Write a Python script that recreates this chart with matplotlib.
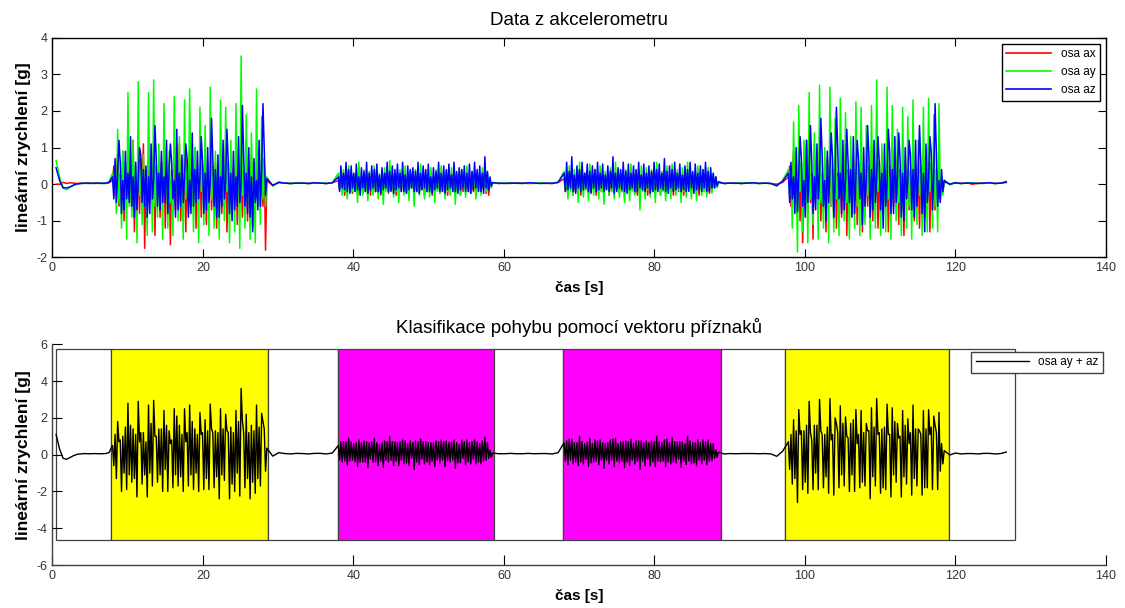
import numpy as np
import matplotlib.pyplot as plt

plt.rcParams['font.family'] = ['Liberation Sans', 'DejaVu Sans']
plt.rcParams['axes.unicode_minus'] = False

# segment boundaries in seconds (rest / activity)
seg_start = [0.5, 8.0, 28.5, 38.0, 58.5, 68.0, 88.5, 97.8, 118.5]
seg_end = [8.0, 28.5, 38.0, 58.5, 68.0, 88.5, 97.8, 118.5, 127.5]

# --- osa ax ---
ax_rest0 = [0.0, 0.0, 0.05, 0.02, 0.04, 0.03, 0.02, 0.03, 0.02, 0.03, 0.03, 0.02, 0.03, 0.03, 0.02, 0.04]
ax_act1 = [0.1, 0.5, -0.3, 0.2, 0.8, -0.6, 0.3, -0.2, 0.9, -1.0, 0.4, -0.3, 0.6, -0.4, 0.2, -0.7,
           1.2, -1.3, 0.3, -0.5, 0.5, -0.8, 0.7, -0.2, 1.1, -1.75, 0.4, -0.6, 0.7, -0.5, 0.2, -0.4,
           0.9, -1.4, 0.5, -0.3, 0.4, -0.9, 0.6, -0.2, 1.0, -1.2, 0.3, -0.5, 0.6, -1.65, 0.4, -0.3,
           0.8, -0.7, 0.5, -0.4, 1.1, -1.0, 0.2, -0.6, 0.5, -1.3, 0.7, -0.3, 0.9, -0.6, 0.4, -0.5,
           1.0, -1.2, 0.3, -0.4, 0.7, -0.9, 0.5, -0.2, 0.8, -1.1, 0.6, -0.5, 1.0, -0.7, 0.3, -0.4,
           0.6, -1.2, 0.4, -0.3, 0.9, -0.8, 0.5, -0.6, 1.1, -1.3, 0.2, -0.5, 0.7, -0.6, 0.4, -0.3,
           1.0, -1.1, 0.6, -0.4, 0.5, -0.9, 0.3, -0.2, 1.2, -1.0, 0.4, -0.6, 0.8, -1.2, 0.5, -0.3,
           0.6, -0.5, 0.9, -0.4, 0.3, -0.6, 0.7, -1.8]
ax_rest1 = [0.1, -0.04, 0.05, 0.03, 0.02, 0.03, 0.04, 0.02, 0.03, 0.03, 0.02, 0.04]
ax_act2 = [0.1, -0.15, 0.25, -0.2, 0.15, -0.3, 0.2, -0.1, 0.3, -0.2, 0.1, -0.25, 0.2, -0.15, 0.25, -0.3,
           0.15, -0.1, 0.2, -0.25, 0.3, -0.15, 0.1, -0.2, 0.25, -0.3, 0.15, -0.1, 0.2, -0.2, 0.25, -0.15,
           0.1, -0.3, 0.2, -0.2, 0.3, -0.1, 0.15, -0.25, 0.2, -0.15, 0.25, -0.2, 0.1, -0.3, 0.2, -0.1,
           0.25, -0.2, 0.3, -0.15, 0.1, -0.25, 0.2, -0.2, 0.15, -0.1, 0.2, -0.05, 0.15, -0.2, 0.1, -0.25,
           0.3, -0.15, 0.2, -0.3, 0.1, -0.2, 0.25, -0.1, 0.2, -0.3, 0.15, -0.2, 0.3, -0.15, 0.1, -0.25,
           0.2, -0.2, 0.25, -0.1, 0.15, -0.3, 0.2, -0.15, 0.3, -0.2, 0.1, -0.25, 0.2, -0.1, 0.25, -0.3,
           0.15, -0.2, 0.2, -0.15, 0.3, -0.1, 0.1, -0.25, 0.2, -0.2, 0.15, -0.3, 0.25, -0.1, 0.2, -0.2,
           0.1, -0.15, 0.3, -0.25, 0.15, -0.3, 0.1, -0.05]
ax_rest2 = [0.04, 0.02, 0.03, 0.02, 0.04, 0.03, 0.02, 0.03, 0.03, 0.02, 0.03, 0.05]
ax_act3 = [0.15, -0.2, 0.1, -0.25, 0.3, -0.15, 0.2, -0.3, 0.1, -0.2, 0.25, -0.1, 0.2, -0.3, 0.15, -0.2,
           0.3, -0.15, 0.1, -0.25, 0.2, -0.2, 0.25, -0.1, 0.15, -0.3, 0.2, -0.15, 0.3, -0.2, 0.1, -0.25,
           0.2, -0.1, 0.25, -0.3, 0.15, -0.2, 0.2, -0.15, 0.3, -0.1, 0.1, -0.25, 0.2, -0.2, 0.15, -0.3,
           0.25, -0.1, 0.2, -0.2, 0.1, -0.15, 0.3, -0.25, 0.15, -0.3, 0.1, -0.05, 0.1, -0.15, 0.25, -0.2,
           0.15, -0.3, 0.2, -0.1, 0.3, -0.2, 0.1, -0.25, 0.2, -0.15, 0.25, -0.3, 0.15, -0.1, 0.2, -0.25,
           0.3, -0.15, 0.1, -0.2, 0.25, -0.3, 0.15, -0.1, 0.2, -0.2, 0.25, -0.15, 0.1, -0.3, 0.2, -0.2,
           0.3, -0.1, 0.15, -0.25, 0.2, -0.15, 0.25, -0.2, 0.1, -0.3, 0.2, -0.1, 0.25, -0.2, 0.3, -0.15,
           0.1, -0.25, 0.2, -0.2, 0.15, -0.1, 0.2, -0.05]
ax_rest3 = [0.05, 0.02, 0.03, 0.03, 0.02, 0.04, 0.03, 0.02, 0.03, 0.02, 0.0, 0.05]
ax_act4 = [0.2, 0.5, -0.6, 0.3, 0.9, -0.4, 0.2, -0.7, 0.7, -1.0, 0.4, -1.6, 0.5, -0.3, 1.2, -0.8,
           0.6, -0.5, 0.3, -1.5, 1.1, -0.4, 0.6, -0.7, 0.9, -1.0, 0.2, -0.5, 0.5, -1.3, 0.7, -0.3,
           1.0, -0.6, 0.4, -0.9, 0.8, -1.2, 0.3, -0.5, 0.6, -0.9, 0.5, -0.3, 1.1, -1.4, 0.4, -0.6,
           0.7, -0.8, 0.3, -0.5, 0.9, -1.1, 0.6, -0.4, 0.5, -1.3, 0.4, -0.7, 0.8, -0.6, 0.2, -0.5,
           1.0, -1.0, 0.5, -0.4, 0.6, -1.2, 0.3, -0.8, 0.9, -0.8, 0.4, -0.3, 0.7, -1.3, 0.5, -0.6,
           1.0, -0.6, 0.3, -0.5, 0.8, -1.1, 0.4, -0.7, 0.5, -1.4, 0.6, -0.4, 0.9, -0.7, 0.2, -0.5,
           1.0, -1.0, 0.5, -0.3, 0.6, -1.2, 0.4, -0.6, 0.8, -0.9, 0.3, -0.5, 1.0, -1.3, 0.5, -0.4,
           0.6, -0.7, 0.4, -0.3, 0.5, -0.4, 0.2, -0.2]
ax_rest4 = [0.06, 0.01, 0.03, 0.02, 0.04, 0.0, 0.03, 0.02, 0.04, 0.02, 0.03, 0.05]

# --- osa ay ---
ay_rest0 = [0.65, 0.2, -0.1, -0.15, -0.08, -0.03, 0.01, 0.02, 0.03, 0.02, 0.03, 0.03, 0.02, 0.03, 0.03, 0.06]
ay_act1 = [0.3, -0.2, 0.4, -0.8, 1.5, -0.5, 0.2, -1.2, 0.9, -0.3, 0.6, -1.5, 2.5, -0.6, 0.3, -0.9,
           1.2, -0.4, 0.5, -1.6, 2.8, -0.3, 0.4, -1.1, 0.8, -0.5, 0.2, -1.4, 2.5, -0.2, 0.6, -1.3,
           2.85, -0.6, 0.3, -0.9, 1.1, -0.4, 0.5, -1.5, 2.2, -0.3, 0.4, -1.2, 0.9, -0.5, 0.2, -1.4,
           2.4, -0.2, 0.6, -1.0, 1.3, -0.6, 0.3, -1.5, 2.3, -0.4, 0.5, -0.8, 2.6, -0.3, 0.4, -1.3,
           1.0, -0.5, 0.2, -1.6, 2.1, -0.2, 0.6, -1.1, 1.6, -0.6, 0.3, -1.4, 2.65, -0.4, 0.5, -1.2,
           0.9, -0.3, 0.4, -1.5, 2.3, -0.5, 0.2, -1.0, 2.1, -0.2, 0.6, -1.6, 1.2, -0.6, 0.3, -1.3,
           2.2, -0.4, 0.5, -1.75, 3.5, -0.3, 0.4, -1.2, 1.9, -0.5, 0.2, -1.5, 1.4, -0.2, 0.6, -1.6,
           2.6, -0.6, 0.3, -1.1, 1.85, -0.4, 0.5, -0.6]
ay_rest1 = [0.2, -0.05, 0.06, 0.03, 0.02, 0.04, 0.03, 0.02, 0.03, 0.04, 0.02, 0.05]
ay_act2 = [0.3, -0.1, 0.2, -0.3, 0.4, -0.2, 0.1, -0.4, 0.5, -0.1, 0.2, -0.2, 0.3, -0.2, 0.1, -0.5,
           0.6, -0.1, 0.2, -0.3, 0.4, -0.2, 0.1, -0.45, 0.35, -0.1, 0.2, -0.3, 0.5, -0.2, 0.1, -0.4,
           0.3, -0.1, 0.2, -0.55, 0.45, -0.2, 0.1, -0.2, 0.65, -0.1, 0.2, -0.35, 0.3, -0.2, 0.1, -0.5,
           0.4, -0.1, 0.2, -0.3, 0.5, -0.2, 0.1, -0.45, 0.35, -0.1, 0.2, -0.6, 0.4, -0.2, 0.1, -0.3,
           0.55, -0.1, 0.2, -0.4, 0.3, -0.2, 0.1, -0.35, 0.45, -0.1, 0.2, -0.5, 0.4, -0.2, 0.1, -0.25,
           0.5, -0.1, 0.2, -0.4, 0.35, -0.2, 0.1, -0.3, 0.45, -0.1, 0.2, -0.55, 0.3, -0.2, 0.1, -0.3,
           0.4, -0.1, 0.2, -0.35, 0.5, -0.2, 0.1, -0.25, 0.35, -0.1, 0.2, -0.4, 0.3, -0.2, 0.1, -0.3,
           0.45, -0.1, 0.2, -0.2, 0.3, -0.05, 0.05, -0.1]
ay_rest2 = [0.05, 0.02, 0.03, 0.04, 0.02, 0.03, 0.03, 0.02, 0.04, 0.03, 0.02, 0.06]
ay_act3 = [0.35, -0.15, 0.15, -0.4, 0.5, -0.2, 0.1, -0.3, 0.4, -0.15, 0.15, -0.5, 0.6, -0.2, 0.1, -0.35,
           0.3, -0.15, 0.15, -0.45, 0.55, -0.2, 0.1, -0.3, 0.4, -0.15, 0.15, -0.4, 0.5, -0.2, 0.1, -0.55,
           0.35, -0.15, 0.15, -0.3, 0.45, -0.2, 0.1, -0.4, 0.6, -0.15, 0.15, -0.35, 0.3, -0.2, 0.1, -0.5,
           0.4, -0.15, 0.15, -0.45, 0.55, -0.2, 0.1, -0.3, 0.35, -0.15, 0.15, -0.7, 0.5, -0.2, 0.1, -0.4,
           0.45, -0.15, 0.15, -0.35, 0.4, -0.2, 0.1, -0.5, 0.6, -0.15, 0.15, -0.3, 0.35, -0.2, 0.1, -0.45,
           0.5, -0.15, 0.15, -0.4, 0.55, -0.2, 0.1, -0.3, 0.4, -0.15, 0.15, -0.5, 0.45, -0.2, 0.1, -0.35,
           0.6, -0.15, 0.15, -0.4, 0.3, -0.2, 0.1, -0.45, 0.5, -0.15, 0.15, -0.3, 0.4, -0.2, 0.1, -0.35,
           0.45, -0.15, 0.15, -0.25, 0.3, -0.1, 0.05, -0.1]
ay_rest3 = [0.08, 0.02, 0.03, 0.02, 0.04, 0.03, 0.02, 0.03, 0.03, 0.02, -0.05, 0.1]
ay_act4 = [0.4, -0.3, 0.5, -1.2, 1.7, -0.5, 0.3, -1.85, 2.15, -0.2, 0.6, -1.3, 1.2, -0.6, 0.4, -1.6,
           2.5, -0.4, 0.2, -1.1, 1.4, -0.3, 0.5, -1.5, 2.7, -0.5, 0.3, -1.2, 1.0, -0.2, 0.6, -1.6,
           2.65, -0.6, 0.4, -1.3, 1.8, -0.4, 0.2, -1.4, 2.35, -0.3, 0.5, -1.0, 1.95, -0.5, 0.3, -1.5,
           1.3, -0.2, 0.6, -1.2, 2.25, -0.6, 0.4, -1.4, 2.1, -0.4, 0.2, -1.1, 1.6, -0.3, 0.5, -1.5,
           2.15, -0.5, 0.3, -1.2, 2.85, -0.2, 0.6, -1.4, 1.1, -0.6, 0.4, -1.3, 2.65, -0.4, 0.2, -1.5,
           2.15, -0.3, 0.5, -1.0, 1.5, -0.5, 0.3, -1.4, 2.1, -0.2, 0.6, -1.2, 1.85, -0.6, 0.4, -1.5,
           2.3, -0.4, 0.2, -1.1, 1.2, -0.3, 0.5, -1.4, 2.1, -0.5, 0.3, -1.3, 2.35, -0.2, 0.6, -1.2,
           1.9, -0.6, 0.4, -1.3, 2.2, -0.4, 0.2, -0.3]
ay_rest4 = [0.12, -0.02, 0.05, 0.02, 0.03, 0.03, 0.02, 0.04, 0.03, 0.02, 0.03, 0.08]

# --- osa az ---
az_rest0 = [0.45, 0.1, -0.1, -0.1, -0.07, -0.02, 0.01, 0.02, 0.03, 0.03, 0.02, 0.03, 0.03, 0.02, 0.03, 0.05]
az_act1 = [0.2, -0.4, 0.7, -0.5, 0.3, 1.2, 0.6, -0.8, 0.1, -0.7, 0.9, -0.4, 0.3, -0.5, 1.3, -0.6,
           0.2, -0.9, 0.6, -0.7, 0.1, 1.0, 0.8, -0.5, 0.4, -0.6, 0.5, -0.9, 0.2, -0.8, 1.1, -0.4,
           0.1, 1.6, 0.7, -0.6, 0.3, -0.7, 0.9, -0.5, 0.2, -0.5, 1.2, -0.8, 0.4, 1.1, 0.6, -0.4,
           0.1, -0.9, 1.5, -0.7, 0.3, -0.6, 0.8, -0.5, 0.2, 1.1, 0.7, -0.9, 0.1, -0.8, 1.4, -0.6,
           0.4, -0.5, 0.9, -0.4, 0.2, 1.3, 0.6, -0.8, 0.3, -0.7, 1.0, -0.5, 0.1, 1.8, 0.7, -0.6,
           0.4, -0.9, 0.8, -0.9, 0.2, -0.6, 1.2, -0.4, 0.1, 1.5, 0.6, -0.8, 0.3, -1.0, 0.9, -0.7,
           0.2, -0.6, 1.3, -0.5, 0.1, 2.15, 0.8, -0.6, 0.3, -0.8, 1.0, -0.9, 0.2, -1.3, 0.7, -0.5,
           0.1, -0.7, 1.2, -0.6, 0.4, 2.2, 0.9, -0.3]
az_rest1 = [0.15, -0.03, 0.05, 0.03, 0.02, 0.03, 0.03, 0.02, 0.04, 0.03, 0.02, 0.04]
az_act2 = [0.2, -0.2, 0.5, -0.1, 0.3, -0.15, 0.6, -0.2, 0.4, -0.25, 0.5, -0.1, 0.3, -0.2, 0.55, -0.15,
           0.2, -0.3, 0.45, -0.1, 0.35, -0.2, 0.6, -0.25, 0.3, -0.15, 0.5, -0.1, 0.4, -0.2, 0.55, -0.2,
           0.25, -0.25, 0.45, -0.15, 0.3, -0.1, 0.6, -0.2, 0.35, -0.2, 0.5, -0.25, 0.4, -0.15, 0.55, -0.1,
           0.3, -0.2, 0.6, -0.2, 0.25, -0.25, 0.5, -0.15, 0.4, -0.1, 0.45, -0.2, 0.35, -0.2, 0.6, -0.25,
           0.3, -0.15, 0.5, -0.1, 0.4, -0.2, 0.55, -0.2, 0.2, -0.25, 0.45, -0.15, 0.35, -0.1, 0.6, -0.2,
           0.3, -0.2, 0.5, -0.25, 0.4, -0.15, 0.55, -0.1, 0.25, -0.2, 0.6, -0.2, 0.35, -0.25, 0.45, -0.15,
           0.4, -0.1, 0.5, -0.2, 0.3, -0.2, 0.55, -0.25, 0.35, -0.15, 0.6, -0.1, 0.4, -0.2, 0.5, -0.2,
           0.3, -0.25, 0.75, -0.1, 0.35, -0.15, 0.2, -0.05]
az_rest2 = [0.04, 0.03, 0.02, 0.03, 0.03, 0.02, 0.04, 0.03, 0.02, 0.03, 0.02, 0.05]
az_act3 = [0.3, -0.2, 0.6, -0.15, 0.35, -0.1, 0.75, -0.2, 0.25, -0.25, 0.5, -0.1, 0.4, -0.2, 0.6, -0.15,
           0.3, -0.1, 0.55, -0.2, 0.35, -0.25, 0.5, -0.1, 0.4, -0.2, 0.6, -0.15, 0.3, -0.1, 0.55, -0.2,
           0.25, -0.15, 0.5, -0.2, 0.35, -0.1, 0.75, -0.25, 0.3, -0.2, 0.45, -0.1, 0.4, -0.15, 0.6, -0.2,
           0.35, -0.25, 0.55, -0.15, 0.3, -0.1, 0.5, -0.2, 0.4, -0.2, 0.6, -0.1, 0.25, -0.15, 0.55, -0.2,
           0.3, -0.1, 0.5, -0.25, 0.35, -0.2, 0.6, -0.15, 0.4, -0.2, 0.55, -0.1, 0.3, -0.15, 0.7, -0.2,
           0.35, -0.25, 0.5, -0.1, 0.4, -0.2, 0.6, -0.15, 0.3, -0.1, 0.55, -0.2, 0.25, -0.15, 0.5, -0.2,
           0.4, -0.2, 0.6, -0.1, 0.35, -0.25, 0.55, -0.15, 0.3, -0.15, 0.5, -0.2, 0.4, -0.1, 0.6, -0.2,
           0.35, -0.2, 0.45, -0.1, 0.3, -0.1, 0.2, -0.05]
az_rest3 = [0.06, 0.02, 0.03, 0.03, 0.02, 0.03, 0.04, 0.02, 0.03, 0.02, -0.04, 0.08]
az_act4 = [0.3, -0.5, 0.6, -0.4, 0.2, -0.8, 1.0, -0.75, 0.3, 1.3, 0.7, -0.6, 0.1, -0.9, 1.2, -0.5,
           0.4, 1.6, 0.6, -0.8, 0.2, -0.7, 1.1, -0.4, 0.3, 1.8, 0.8, -0.6, 0.1, -1.0, 0.9, -0.5,
           0.4, 1.4, 0.7, -0.9, 0.2, 2.1, 1.0, -0.4, 0.3, -0.8, 1.2, -0.7, 0.1, 1.5, 0.6, -0.5,
           0.4, -0.9, 1.3, -0.8, 0.2, 1.2, 0.7, -0.4, 0.3, -1.1, 1.0, -0.6, 0.1, 1.6, 0.8, -0.9,
           0.4, -0.7, 1.2, -0.5, 0.2, 1.3, 0.6, -0.7, 0.3, -1.2, 1.1, -0.6, 0.1, 1.5, 0.9, -0.8,
           0.4, -0.8, 1.3, -0.5, 0.2, 1.4, 0.7, -0.9, 0.3, -1.0, 1.0, -0.4, 0.1, 1.2, 0.8, -0.7,
           0.4, -0.9, 1.2, -0.6, 0.2, 1.6, 0.6, -0.8, 0.3, -1.3, 1.1, -0.5, 0.1, 1.3, 0.9, -0.7,
           0.2, 2.2, 0.8, -0.6, 0.1, -0.5, 0.4, -0.2]
az_rest4 = [0.1, 0.0, 0.04, 0.02, 0.03, 0.03, 0.02, 0.03, 0.04, 0.02, 0.03, 0.06]

# classification blocks in the lower chart
class_start = [0.5, 7.8, 28.7, 37.9, 58.7, 67.8, 88.8, 97.4, 119.2]
class_end = [7.8, 28.7, 37.9, 58.7, 67.8, 88.8, 97.4, 119.2, 127.9]
class_color = ['white', 'yellow', 'white', 'magenta', 'white', 'magenta', 'white', 'yellow', 'white']
class_low = -4.65
class_high = 5.73

ax_segments = [ax_rest0, ax_act1, ax_rest1, ax_act2, ax_rest2, ax_act3, ax_rest3, ax_act4, ax_rest4]
ay_segments = [ay_rest0, ay_act1, ay_rest1, ay_act2, ay_rest2, ay_act3, ay_rest3, ay_act4, ay_rest4]
az_segments = [az_rest0, az_act1, az_rest1, az_act2, az_rest2, az_act3, az_rest3, az_act4, az_rest4]


def build(segments):
    t, v = [], []
    for s, e, vals in zip(seg_start, seg_end, segments):
        t.append(np.linspace(s, e, len(vals), endpoint=False))
        v.append(np.array(vals))
    return np.concatenate(t), np.concatenate(v)


t_ax, v_ax = build(ax_segments)
t_ay, v_ay = build(ay_segments)
t_az, v_az = build(az_segments)
v_sum = v_ay + v_az

tick_color = '#333333'

fig = plt.figure(figsize=(11.25, 6.08), dpi=100)

# top: raw accelerometer data
ax1 = fig.add_axes([0.0465, 0.5765, 0.9366, 0.3615])
ax1.plot(t_ax, v_ax, color=(1, 0, 0), lw=1.1, label='osa ax')
ax1.plot(t_ay, v_ay, color=(0, 1, 0), lw=1.1, label='osa ay')
ax1.plot(t_az, v_az, color=(0, 0, 1), lw=1.1, label='osa az')
ax1.set_xlim(0, 140)
ax1.set_ylim(-2, 4)
ax1.set_xticks(range(0, 141, 20))
ax1.set_yticks(range(-2, 5, 1))
ax1.tick_params(direction='in', length=6, top=True, right=True, labelsize=9, labelcolor=tick_color)
for sp in ax1.spines.values():
    sp.set_linewidth(1.0)
ax1.set_title('Data z akcelerometru', fontsize=13.5, pad=9)
ax1.set_xlabel('čas [s]', fontsize=11, fontweight='bold', labelpad=5)
ax1.set_ylabel('lineární zrychlení [g]', fontsize=12.5, fontweight='bold', labelpad=4)
leg1 = ax1.legend(loc='upper right', fontsize=8.5, handlelength=3.8, fancybox=False,
                  edgecolor='black', framealpha=1, borderaxespad=0.5)
leg1.get_frame().set_linewidth(1.0)
for ln in leg1.get_lines():
    ln.set_linewidth(1.2)

# bottom: classification
ax2 = fig.add_axes([0.0465, 0.0707, 0.9366, 0.363])
for s, e, c in zip(class_start, class_end, class_color):
    ax2.bar(s, class_high - class_low, width=e - s, bottom=class_low, align='edge',
            color=c, edgecolor='#404040', linewidth=0.9, zorder=1)
ax2.plot(t_ay, v_sum, color='black', lw=1.0, label='osa ay + az', zorder=3)
ax2.set_xlim(0, 140)
ax2.set_ylim(-6, 6)
ax2.set_xticks(range(0, 141, 20))
ax2.set_yticks(range(-6, 7, 2))
ax2.spines['top'].set_visible(False)
ax2.spines['right'].set_visible(False)
for sp in ax2.spines.values():
    sp.set_linewidth(1.0)
    sp.set_color('#404040')
ax2.tick_params(direction='in', length=7, labelsize=9, labelcolor=tick_color)
ax2.set_title('Klasifikace pohybu pomocí vektoru příznaků', fontsize=13.5, pad=8)
ax2.set_xlabel('čas [s]', fontsize=11, fontweight='bold', labelpad=5)
ax2.set_ylabel('lineární zrychlení [g]', fontsize=12.5, fontweight='bold', labelpad=4)
leg2 = ax2.legend(loc='upper right', bbox_to_anchor=(0.9975, 0.967), fontsize=8.5, handlelength=4.5,
                  fancybox=False, edgecolor='#404040', framealpha=1, borderaxespad=0.0)
leg2.get_frame().set_linewidth(1.0)
for ln in leg2.get_lines():
    ln.set_linewidth(1.0)

fig.savefig('out.png', dpi=100)
